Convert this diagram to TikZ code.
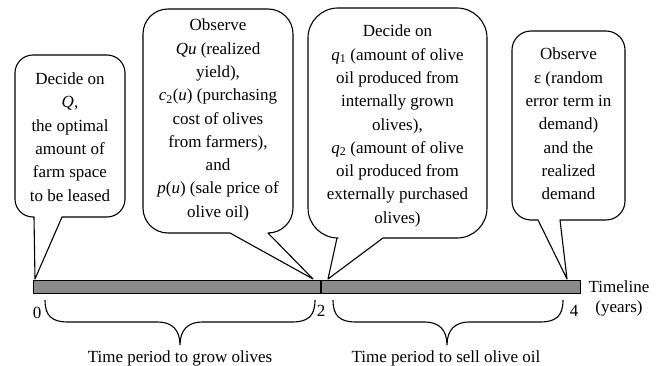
\documentclass[tikz,border=0pt]{standalone}
\usepackage{fontspec}
\setmainfont{Liberation Serif}
\definecolor{barfill}{RGB}{138,138,138}
\tikzset{
  bubble/.style={draw=black, fill=white, line width=1.1pt, line join=round},
  bubbletext/.style={align=center, inner sep=0pt, font=\fontsize{17}{23.3}\selectfont},
  plain/.style={inner sep=0pt, font=\fontsize{17}{20}\selectfont},
  bracepath/.style={draw=black, line width=1.1pt},
}
% #1 L, #2 T, #3 R, #4 B, #5 r, #6 pointer base left, #7 pointer base right, #8 tip x, #9 tip y
\newcommand\calloutshape[9]{%
  \pgfmathsetmacro\kk{0.552*#5}%
  \draw[bubble] (#6,#4) -- (#1+#5,#4)
    .. controls (#1+#5-\kk,#4) and (#1,#4-#5+\kk) .. (#1,#4-#5)
    -- (#1,#2+#5)
    .. controls (#1,#2+#5-\kk) and (#1+#5-\kk,#2) .. (#1+#5,#2)
    -- (#3-#5,#2)
    .. controls (#3-#5+\kk,#2) and (#3,#2+#5-\kk) .. (#3,#2+#5)
    -- (#3,#4-#5)
    .. controls (#3,#4-#5+\kk) and (#3-#5+\kk,#4) .. (#3-#5,#4)
    -- (#7,#4) -- (#8,#9) -- cycle;}
\begin{document}
\begin{tikzpicture}[x=1pt,y=-1pt]
\useasboundingbox (0,0) rectangle (661,366);

% timeline bar
\node[draw=black, fill=barfill, line width=1.1pt, minimum width=547pt, minimum height=13pt, inner sep=0pt, anchor=north west] (bar) at (33,280) {};
\coordinate (divtop) at (321,280);
\coordinate (divbot) at (321,293);
\draw[line width=1.1pt] (divtop) -- (divbot);

% callouts
\calloutshape{15}{55}{125}{217}{18}{34}{62}{35}{279}
\calloutshape{143}{9}{293}{233}{25}{230}{268}{313}{279}
\calloutshape{308}{8}{487}{238}{30}{337}{383}{328}{279}
\calloutshape{512}{31}{625}{220}{19}{538}{560}{567}{279}

\node[bubbletext] (t1) at (70,137) {Decide on\\ \textit{Q},\\ the optimal\\ amount of\\ farm space\\ to be leased};
\node[bubbletext] (t2) at (218,120) {Observe\\ \textit{Qu} (realized\\ yield),\\ \textit{c}\textsubscript{2}(\textit{u}) (purchasing\\ cost of olives\\ from farmers),\\ and\\ \textit{p}(\textit{u}) (sale price of\\ olive oil)};
\node[bubbletext] (t3) at (397.5,126) {Decide on\\ \textit{q}\textsubscript{1} (amount of olive\\ oil produced from\\ internally grown\\ olives),\\ \textit{q}\textsubscript{2} (amount of olive\\ oil produced from\\ externally purchased\\ olives)};
\node[bubbletext] (t4) at (568.5,124) {Observe\\ ε (random\\ error term in\\ demand)\\ and the\\ realized\\ demand};

% tick labels
\node[plain] (n0) at (37,313) {0};
\node[plain] (n2) at (321,311) {2};
\node[plain] (n4) at (574,311) {4};
\node[plain, align=center] (tl) at (619,298) {Timeline\\ (years)};

% braces
\draw[bracepath] (45,300) .. controls (45,316) and (52,322) .. (68,322) -- (158,322)
  .. controls (172,322) and (180,330) .. (180,345)
  .. controls (180,330) and (188,322) .. (202,322) -- (292,322)
  .. controls (308,322) and (315,316) .. (315,300);
\draw[bracepath] (333,300) .. controls (333,316) and (340,322) .. (356,322) -- (425,322)
  .. controls (439,322) and (447,330) .. (447,345)
  .. controls (447,330) and (455,322) .. (469,322) -- (540,322)
  .. controls (556,322) and (563,316) .. (563,300);

\node[plain, anchor=base] (lab1) at (180,362) {Time period to grow olives};
\node[plain, anchor=base] (lab2) at (446,362) {Time period to sell olive oil};
\end{tikzpicture}
\end{document}
